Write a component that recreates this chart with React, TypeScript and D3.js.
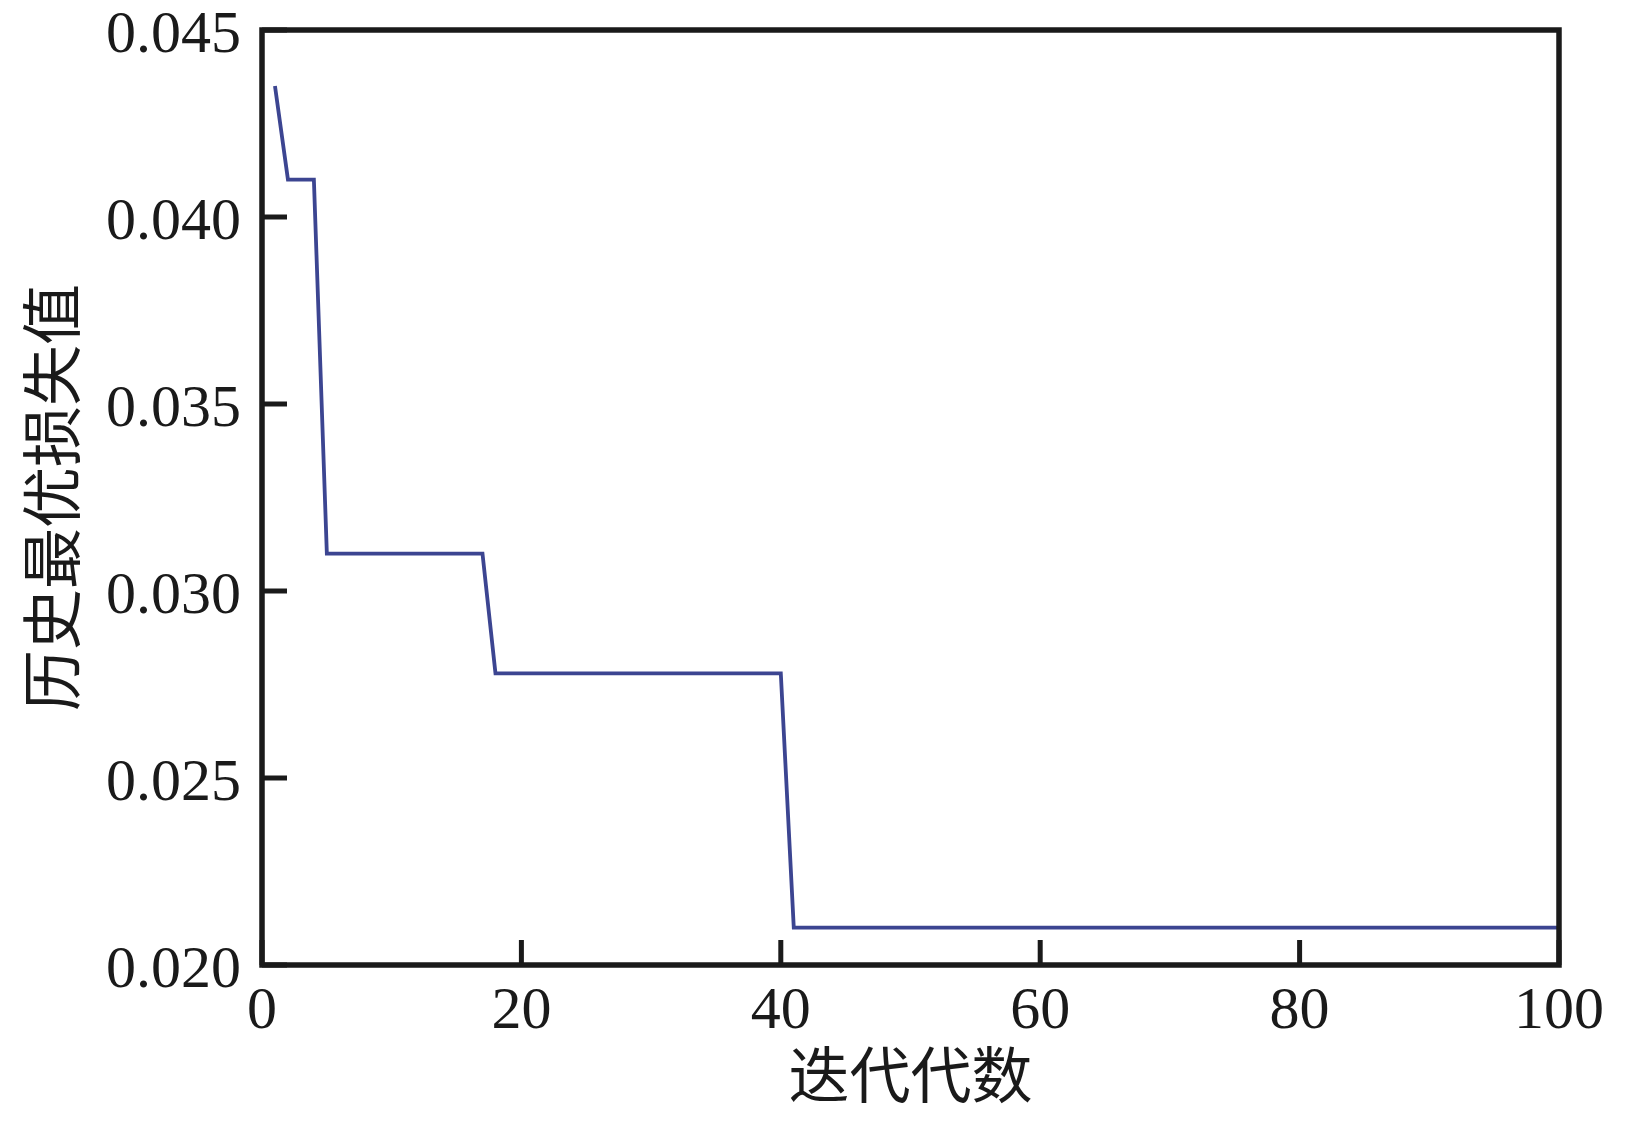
import { useEffect, useRef } from "react";
import * as d3 from "d3";

// change points of the best-so-far loss curve (iteration -> loss)
const iterations = [1, 2, 4, 5, 17, 18, 40, 41, 100];
const bestLoss = [0.0435, 0.041, 0.041, 0.031, 0.031, 0.0278, 0.0278, 0.021, 0.021];

const xTicks = [0, 20, 40, 60, 80, 100];
const yTicks = [0.02, 0.025, 0.03, 0.035, 0.04, 0.045];

const xTitle = "迭代代数";
const yTitle = "历史最优损失值";

const W = 1630;
const H = 1124;
const margin = { left: 262, right: 71, top: 30, bottom: 159 };

export default function App() {
  const ref = useRef<SVGSVGElement | null>(null);

  useEffect(() => {
    if (!ref.current) return;
    const svg = d3.select(ref.current);
    svg.selectAll("*").remove();

    const x = d3.scaleLinear().domain([0, 100]).range([margin.left, W - margin.right]);
    const y = d3.scaleLinear().domain([0.02, 0.045]).range([H - margin.bottom, margin.top]);

    const serif = "'Liberation Serif', 'Times New Roman', serif";
    const cjk = "'Noto Sans CJK SC', sans-serif";

    // ---------- line ----------
    const line = d3
      .line<number>()
      .x((_, i) => x(iterations[i]))
      .y((d) => y(d));

    svg
      .append("path")
      .datum(bestLoss)
      .attr("fill", "none")
      .attr("stroke", "#3c4591")
      .attr("stroke-width", 3.8)
      .attr("stroke-linejoin", "miter")
      .attr("d", line);

    // ---------- ticks (inward) ----------
    const tickLen = 25;
    svg
      .append("g")
      .selectAll("line")
      .data(xTicks)
      .join("line")
      .attr("x1", (d) => x(d))
      .attr("x2", (d) => x(d))
      .attr("y1", H - margin.bottom)
      .attr("y2", H - margin.bottom - tickLen)
      .attr("stroke", "#1a1a1a")
      .attr("stroke-width", 5);

    svg
      .append("g")
      .selectAll("line")
      .data(yTicks)
      .join("line")
      .attr("x1", margin.left)
      .attr("x2", margin.left + tickLen)
      .attr("y1", (d) => y(d))
      .attr("y2", (d) => y(d))
      .attr("stroke", "#1a1a1a")
      .attr("stroke-width", 5);

    // ---------- frame ----------
    svg
      .append("rect")
      .attr("x", margin.left)
      .attr("y", margin.top)
      .attr("width", W - margin.left - margin.right)
      .attr("height", H - margin.top - margin.bottom)
      .attr("fill", "none")
      .attr("stroke", "#1a1a1a")
      .attr("stroke-width", 5.5);

    // ---------- tick labels ----------
    svg
      .append("g")
      .selectAll("text")
      .data(xTicks)
      .join("text")
      .attr("x", (d) => x(d))
      .attr("y", 1028)
      .attr("text-anchor", "middle")
      .attr("font-family", serif)
      .attr("font-size", 60)
      .attr("fill", "#1a1a1a")
      .text((d) => String(d));

    svg
      .append("g")
      .selectAll("text")
      .data(yTicks)
      .join("text")
      .attr("x", 241)
      .attr("y", (d) => y(d) + 22)
      .attr("text-anchor", "end")
      .attr("font-family", serif)
      .attr("font-size", 60)
      .attr("fill", "#1a1a1a")
      .text((d) => d3.format(".3f")(d));

    // ---------- axis titles ----------
    svg
      .append("text")
      .attr("x", (margin.left + W - margin.right) / 2)
      .attr("y", 1098)
      .attr("text-anchor", "middle")
      .attr("font-family", cjk)
      .attr("font-size", 61)
      .attr("fill", "#1a1a1a")
      .text(xTitle);

    svg
      .append("text")
      .attr("transform", `translate(75, ${(margin.top + H - margin.bottom) / 2}) rotate(-90)`)
      .attr("text-anchor", "middle")
      .attr("font-family", cjk)
      .attr("font-size", 61)
      .attr("fill", "#1a1a1a")
      .text(yTitle);
  }, []);

  return (
    <div style={{ position: "absolute", left: 0, top: 0, background: "#fff" }}>
      <svg ref={ref} width={W} height={H} style={{ display: "block" }} />
    </div>
  );
}
